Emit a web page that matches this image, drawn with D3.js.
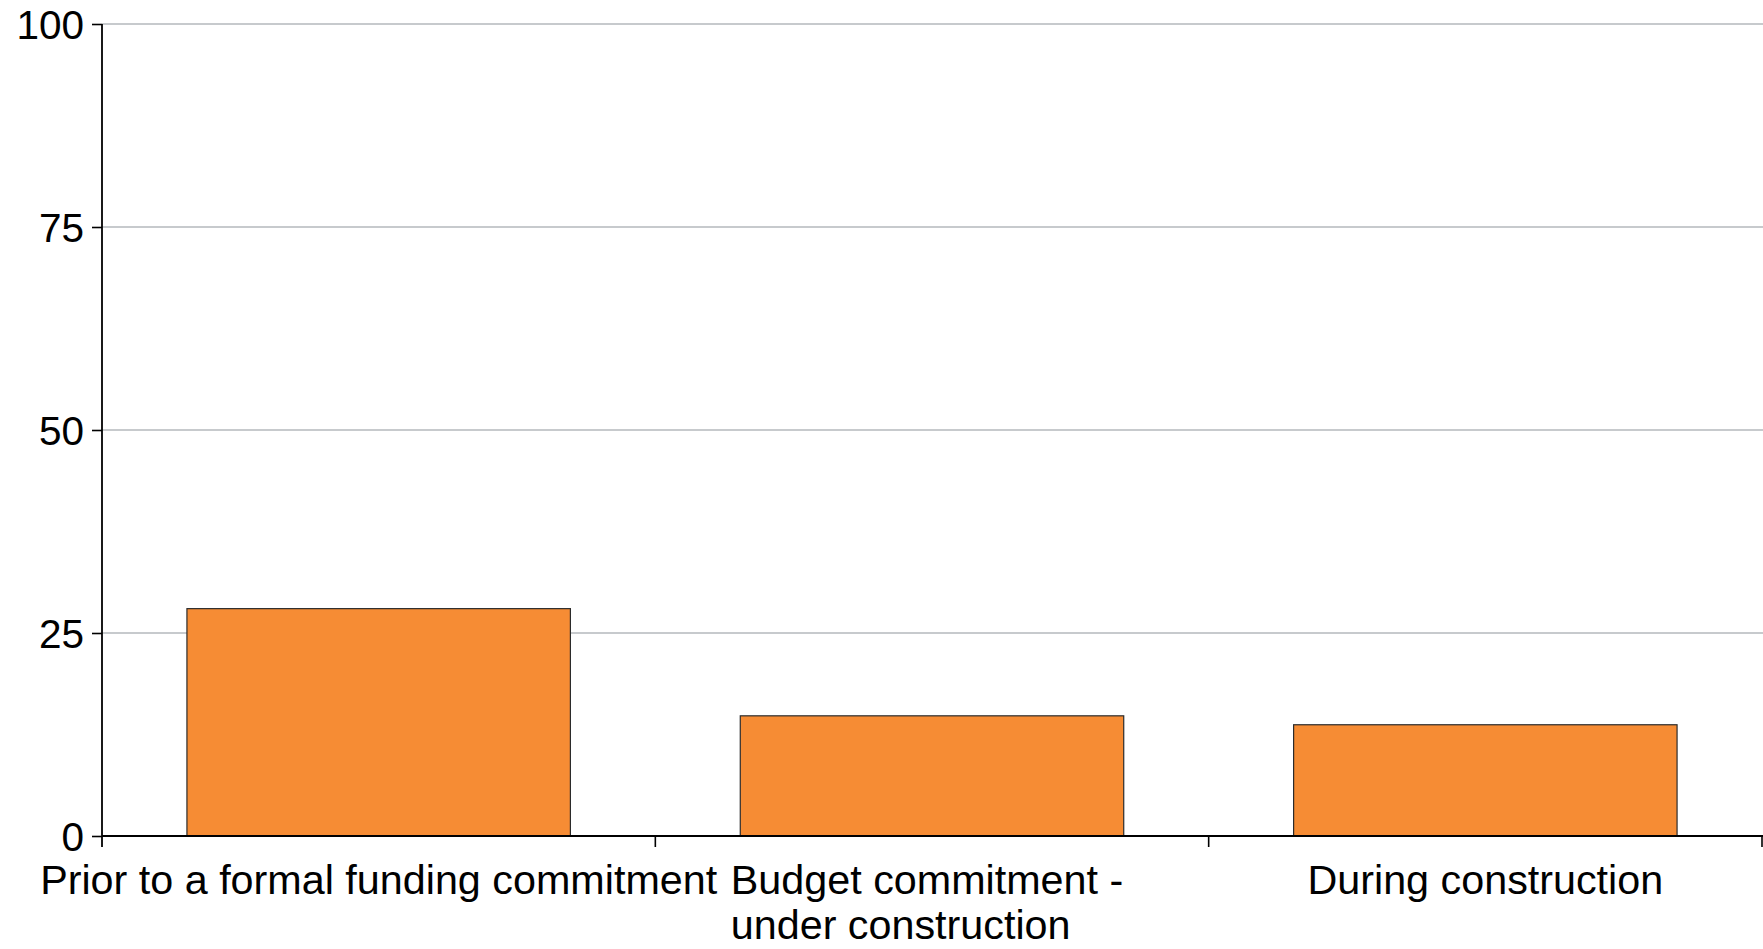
<!DOCTYPE html>
<html>
<head>
<meta charset="utf-8">
<script src="https://cdn.jsdelivr.net/npm/d3@7/dist/d3.min.js"></script>
<style>
  html, body { margin: 0; padding: 0; background: #ffffff; }
  svg { display: block; }
  text { font-family: "Liberation Sans", Arial, sans-serif; fill: #000; }
</style>
</head>
<body>
<svg id="chart" width="1763" height="949"></svg>
<script>
// Chart data
const categories = [
  ["Prior to a formal funding commitment"],
  ["Budget commitment -", "under construction"],
  ["During construction"]
];
const categoryKeys = ["prior", "budget", "during"];
const values = [28, 14.8, 13.7];
const yTicks = [0, 25, 50, 75, 100];

const svg = d3.select("#chart");
const plotLeft = 102, plotRight = 1762, plotTop = 24, plotBottom = 836;

const y = d3.scaleLinear().domain([0, 100]).range([plotBottom, plotTop]);

// Slots for category ticks, and narrower bands for the bars
const slots = d3.scaleBand().domain(categoryKeys).range([plotLeft, plotRight]).padding(0);
const bars = d3.scaleBand().domain(categoryKeys).range([plotLeft, plotRight])
  .paddingInner(0.307).paddingOuter(0.1535);

// Horizontal gridlines
svg.append("g")
  .selectAll("line")
  .data(yTicks.filter(d => d > 0))
  .join("line")
  .attr("x1", plotLeft).attr("x2", plotRight + 1)
  .attr("y1", d => y(d)).attr("y2", d => y(d))
  .attr("stroke", "#b4b8bd")
  .attr("stroke-width", 1.6);

// Bars
svg.append("g")
  .selectAll("rect")
  .data(values)
  .join("rect")
  .attr("x", (d, i) => bars(categoryKeys[i]))
  .attr("width", bars.bandwidth())
  .attr("y", d => y(d))
  .attr("height", d => y(0) - y(d))
  .attr("fill", "#f68c34")
  .attr("stroke", "#2b2b2b")
  .attr("stroke-width", 1.2);

// Y axis
const yAxis = d3.axisLeft(y).tickValues(yTicks).tickSize(10).tickPadding(8);
const gy = svg.append("g").attr("transform", `translate(${plotLeft},0)`).call(yAxis);
gy.select(".domain").remove();
gy.selectAll(".tick line").attr("stroke", "#000").attr("stroke-width", 1.6);
gy.selectAll(".tick text")
  .style("font-family", '"Liberation Sans", Arial, sans-serif')
  .style("font-size", "40.5px")
  .attr("fill", "#000")
  .attr("dy", "0.35em");
gy.append("line")
  .attr("x1", 0).attr("x2", 0)
  .attr("y1", plotTop).attr("y2", plotBottom + 11)
  .attr("stroke", "#000").attr("stroke-width", 1.8);

// X axis baseline and slot ticks
const gx = svg.append("g");
gx.append("line")
  .attr("x1", plotLeft).attr("x2", plotRight + 1)
  .attr("y1", plotBottom).attr("y2", plotBottom)
  .attr("stroke", "#000").attr("stroke-width", 1.8);
const boundaries = categoryKeys.map(k => slots(k)).concat([plotRight]);
gx.selectAll("line.tick")
  .data(boundaries.slice(1))
  .join("line")
  .attr("class", "tick")
  .attr("x1", d => d).attr("x2", d => d)
  .attr("y1", plotBottom).attr("y2", plotBottom + 11)
  .attr("stroke", "#000").attr("stroke-width", 1.6);

// Category labels: the first line is centred under its slot,
// following lines share its left edge
const labels = gx.selectAll("text.cat")
  .data(categories)
  .join("text")
  .attr("class", "cat")
  .attr("text-anchor", "start")
  .style("font-size", "41.3px")
  .attr("y", plotBottom + 58);
labels.selectAll("tspan")
  .data((d, i) => d.map(line => ({ line, i })))
  .join("tspan")
  .attr("dy", (d, j) => j === 0 ? 0 : 45)
  .text(d => d.line);
labels.each(function (d, i) {
  const spans = d3.select(this).selectAll("tspan");
  const firstWidth = spans.node().getComputedTextLength();
  const cx = slots(categoryKeys[i]) + slots.bandwidth() / 2;
  const shift = d.length > 1 ? 5 : 0;
  spans.attr("x", cx - firstWidth / 2 - shift);
});
</script>
</body>
</html>
